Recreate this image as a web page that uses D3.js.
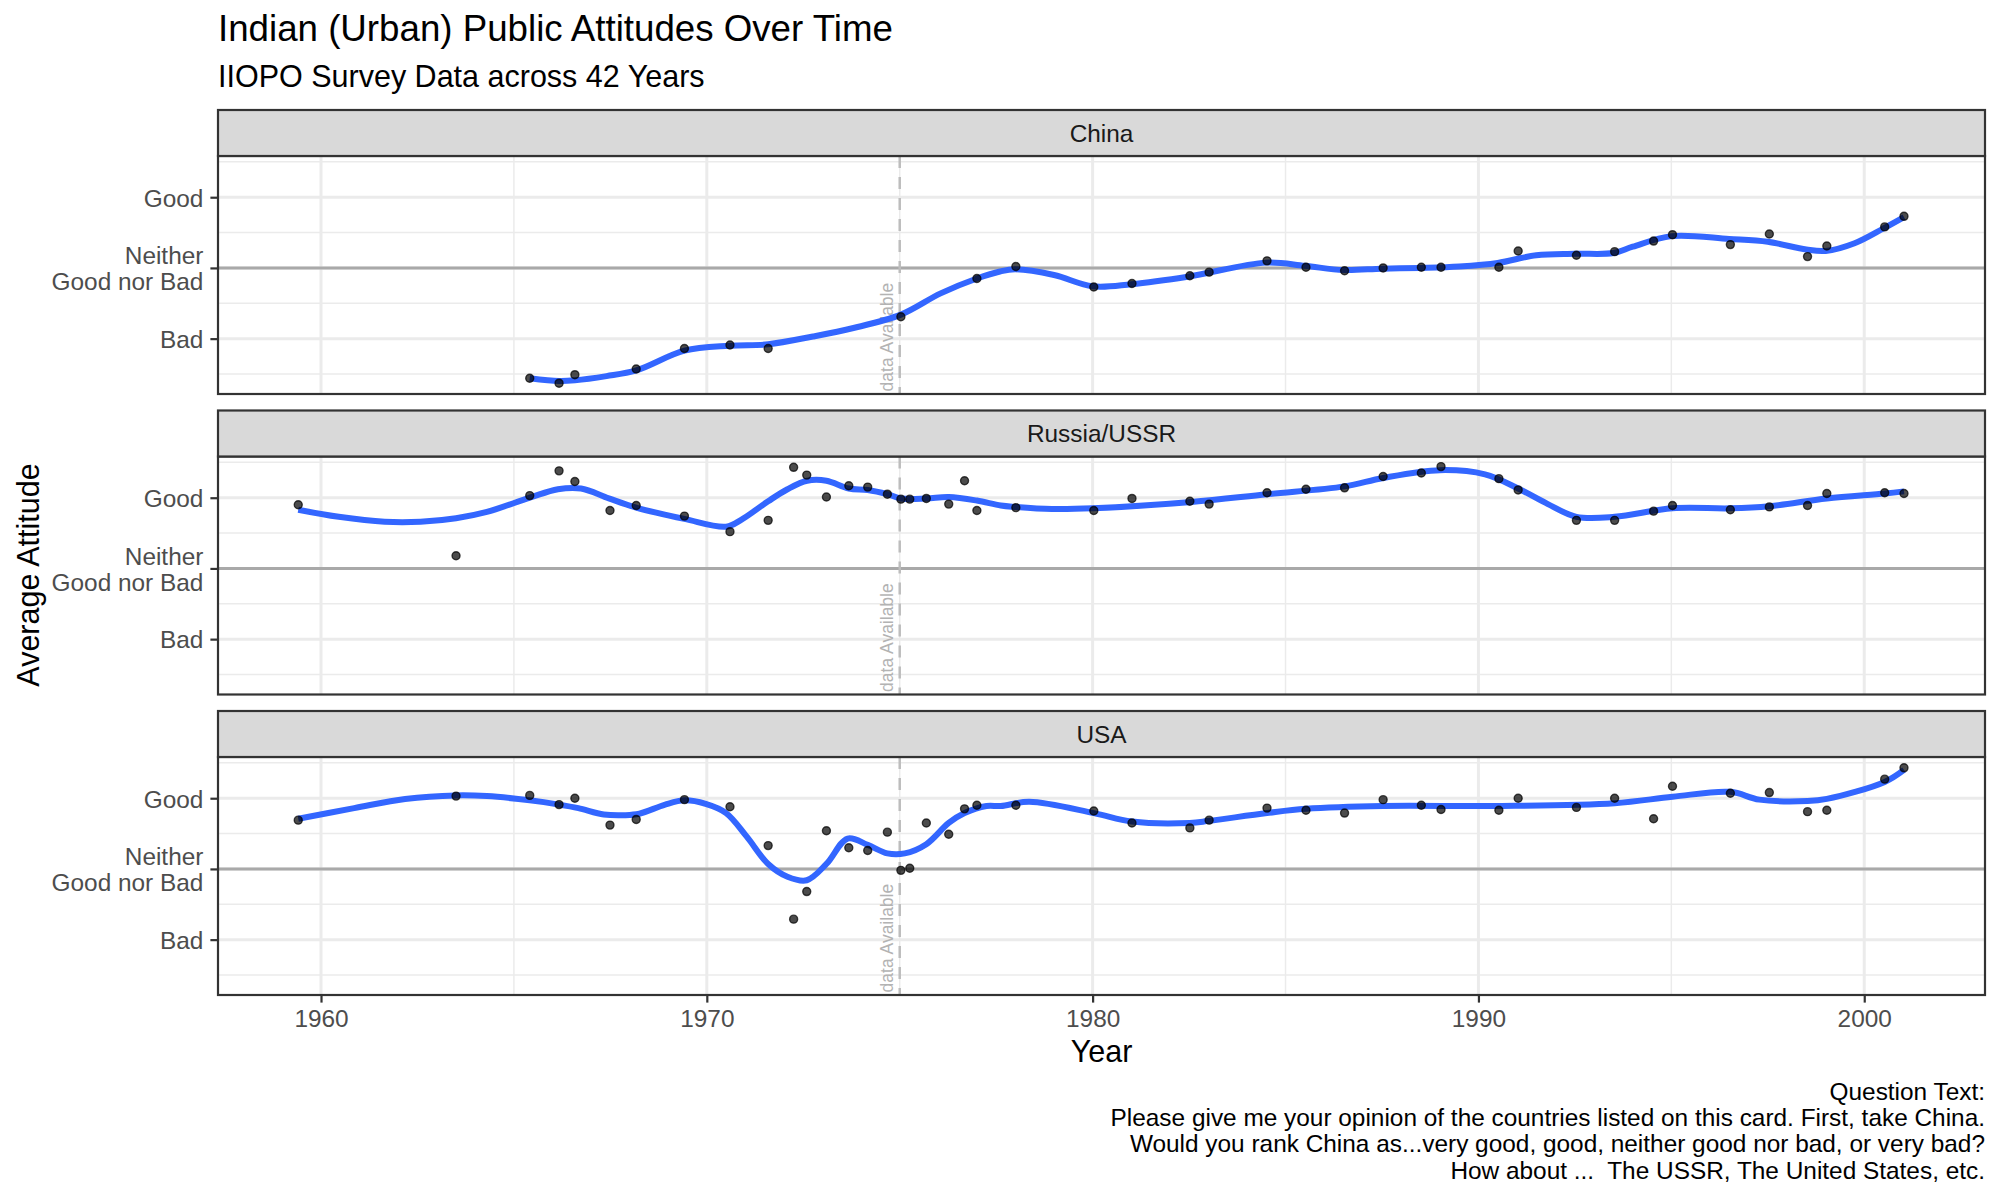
<!DOCTYPE html>
<html><head><meta charset="utf-8">
<script src="https://cdn.jsdelivr.net/npm/d3@7"></script>
<style>
body{margin:0;background:#fff}
svg{display:block}
text{font-family:"Liberation Sans",Arial,Helvetica,sans-serif}
</style>
</head><body>
<svg id="chart" width="2000" height="1200"></svg>
<script>
// ---------------- DATA ----------------
const facetNames = ["China", "Russia/USSR", "USA"];

const chinaYears  = [1965.41,1966.17,1966.58,1968.17,1969.42,1970.6,1971.59,1975.03,1977.0,1978.01,1980.03,1981.02,1982.52,1983.02,1984.52,1985.53,1986.53,1987.53,1988.52,1989.03,1990.53,1991.03,1992.54,1993.53,1994.54,1995.03,1996.53,1997.54,1998.53,1999.03,2000.53,2001.03];
const chinaValues = [-1.56,-1.63,-1.51,-1.43,-1.14,-1.09,-1.14,-0.69,-0.15,0.02,-0.27,-0.22,-0.11,-0.06,0.10,0.01,-0.04,0.0,0.01,0.01,0.01,0.24,0.18,0.23,0.38,0.47,0.33,0.48,0.16,0.31,0.58,0.73];
const chinaSmoothYears  = [1965.41,1966.17,1966.58,1967.4,1968.17,1969.42,1970.6,1971.59,1972.75,1973.8,1975.03,1976.06,1977.0,1977.6,1978.0,1979.0,1980.0,1981.0,1982.5,1984.5,1985.5,1986.5,1987.5,1988.5,1989.5,1990.5,1991.5,1992.5,1993.5,1994.0,1995.0,1996.5,1997.5,1998.5,1999.0,1999.75,2000.5,2001.03];
const chinaSmoothValues = [-1.56,-1.60,-1.59,-1.53,-1.45,-1.17,-1.10,-1.08,-0.97,-0.85,-0.66,-0.36,-0.15,-0.05,-0.02,-0.10,-0.26,-0.23,-0.12,0.075,0.03,-0.03,-0.01,0.0,0.02,0.07,0.18,0.20,0.21,0.30,0.45,0.41,0.37,0.26,0.24,0.35,0.56,0.72];

const russiaYears  = [1959.41,1963.5,1965.41,1966.17,1966.58,1967.49,1968.17,1969.42,1970.6,1971.59,1972.25,1972.59,1973.1,1973.68,1974.17,1974.68,1975.03,1975.26,1975.69,1976.27,1976.68,1977.0,1978.01,1980.03,1981.02,1982.52,1983.02,1984.52,1985.53,1986.53,1987.53,1988.52,1989.03,1990.53,1991.03,1992.54,1993.53,1994.54,1995.03,1996.53,1997.54,1998.53,1999.03,2000.53,2001.03];
const russiaValues = [0.90,0.18,1.03,1.38,1.23,0.82,0.89,0.74,0.52,0.68,1.43,1.32,1.01,1.17,1.15,1.05,0.98,0.98,0.99,0.91,1.24,0.82,0.86,0.82,0.99,0.95,0.91,1.07,1.12,1.14,1.30,1.35,1.44,1.27,1.11,0.68,0.68,0.81,0.89,0.83,0.87,0.89,1.06,1.07,1.06];
const russiaSmoothYears  = [1959.41,1960.46,1961.65,1962.58,1963.5,1964.3,1965.41,1966.14,1966.74,1967.46,1968.17,1969.42,1970.5,1970.9,1971.59,1972.09,1972.6,1973.1,1973.68,1974.17,1974.68,1975.03,1975.69,1976.27,1977.0,1977.62,1978.0,1978.94,1980.0,1982.56,1984.52,1986.53,1987.53,1989.0,1990.17,1991.03,1991.8,1992.54,1993.53,1995.03,1996.53,1997.54,1999.03,2000.53,2001.03];
const russiaSmoothValues = [0.83,0.73,0.66,0.66,0.71,0.80,1.00,1.12,1.13,0.99,0.86,0.70,0.59,0.69,0.95,1.12,1.24,1.24,1.13,1.11,1.05,0.99,0.99,1.01,0.96,0.89,0.87,0.84,0.85,0.94,1.05,1.16,1.28,1.39,1.33,1.13,0.91,0.73,0.73,0.85,0.85,0.88,0.99,1.06,1.09];

const usaYears  = [1959.41,1963.5,1965.41,1966.17,1966.58,1967.49,1968.17,1969.42,1970.6,1971.59,1972.25,1972.59,1973.1,1973.68,1974.17,1974.68,1975.03,1975.26,1975.69,1976.27,1976.68,1977.0,1978.01,1980.03,1981.02,1982.52,1983.02,1984.52,1985.53,1986.53,1987.53,1988.52,1989.03,1990.53,1991.03,1992.54,1993.53,1994.54,1995.03,1996.53,1997.54,1998.53,1999.03,2000.53,2001.03];
const usaValues = [0.69,1.03,1.04,0.91,1.00,0.62,0.70,0.98,0.88,0.33,-0.71,-0.32,0.54,0.30,0.26,0.52,-0.02,0.01,0.65,0.49,0.85,0.90,0.90,0.82,0.65,0.58,0.69,0.86,0.83,0.79,0.98,0.90,0.84,0.83,1.00,0.87,1.00,0.71,1.17,1.07,1.08,0.81,0.83,1.27,1.43];
const usaSmoothYears  = [1959.41,1960.86,1962.18,1963.5,1964.3,1965.41,1966.17,1966.67,1967.33,1967.86,1968.25,1968.92,1969.42,1969.97,1970.5,1971.03,1971.59,1972.09,1972.59,1973.1,1973.65,1974.17,1974.68,1975.13,1975.69,1976.27,1976.68,1977.25,1977.62,1978.36,1980.03,1981.02,1982.52,1983.02,1984.52,1985.53,1987.53,1990.53,1993.53,1995.03,1996.53,1997.28,1998.53,1999.03,2000.53,2001.03];
const usaSmoothValues = [0.71,0.86,0.99,1.04,1.03,0.97,0.91,0.86,0.77,0.76,0.78,0.91,0.97,0.92,0.79,0.46,0.07,-0.11,-0.16,0.07,0.43,0.34,0.22,0.22,0.35,0.65,0.79,0.89,0.89,0.95,0.79,0.67,0.65,0.68,0.79,0.85,0.89,0.89,0.93,1.02,1.09,0.98,0.96,0.99,1.23,1.40];

const yTickValues = [-1, 0, 1];
const yTickLabels = ["Bad", "Neither\nGood nor Bad", "Good"];
const yMinorValues = [-1.5, -0.5, 0.5, 1.5];
const xTickValues = [1960, 1970, 1980, 1990, 2000];
const xMinorValues = [1965, 1975, 1985, 1995];
const markerYear = 1975;
const markerLabel = "No data Available";
const markerLabelValue = -0.21;

const titleText = "Indian (Urban) Public Attitudes Over Time";
const subtitleText = "IIOPO Survey Data across 42 Years";
const xTitle = "Year";
const yTitle = "Average Attitude";
const captionLines = [
  "Question Text:",
  "Please give me your opinion of the countries listed on this card. First, take China.",
  "Would you rank China as...very good, good, neither good nor bad, or very bad?",
  "How about ...  The USSR, The United States, etc."
];

const facetData = [
  {name: facetNames[0], years: chinaYears, values: chinaValues, sYears: chinaSmoothYears, sValues: chinaSmoothValues},
  {name: facetNames[1], years: russiaYears, values: russiaValues, sYears: russiaSmoothYears, sValues: russiaSmoothValues},
  {name: facetNames[2], years: usaYears, values: usaValues, sYears: usaSmoothYears, sValues: usaSmoothValues}
];

// ---------------- LAYOUT ----------------
const plotLeft = 218, plotRight = 1985;
const stripTop0 = 110, stripH = 46, panelH = 238, facetStep = 300.5;
const tickLen = 7.6;
const svg = d3.select("#chart");
svg.append("rect").attr("width", 2000).attr("height", 1200).attr("fill", "#fff");

const x = d3.scaleLinear().domain([1957.33, 2003.13]).range([plotLeft, plotRight]);
const yDomain = [-1.783, 1.583];

// titles
svg.append("text").attr("x", plotLeft).attr("y", 41).attr("font-size", 36.7).attr("fill", "#000").text(titleText);
svg.append("text").attr("x", plotLeft).attr("y", 87).attr("font-size", 30.5).attr("fill", "#000").text(subtitleText);

const defs = svg.append("defs");

facetData.forEach((f, i) => {
  const stripTop = stripTop0 + i * facetStep;
  const top = stripTop + stripH, bottom = top + panelH;
  const y = d3.scaleLinear().domain(yDomain).range([bottom, top]);
  const g = svg.append("g");

  defs.append("clipPath").attr("id", "clip" + i)
    .append("rect").attr("x", plotLeft).attr("y", top).attr("width", plotRight - plotLeft).attr("height", panelH);
  const pg = g.append("g").attr("clip-path", `url(#clip${i})`);

  // minor grid
  pg.selectAll(".ymin").data(yMinorValues).join("line")
    .attr("x1", plotLeft).attr("x2", plotRight).attr("y1", d => y(d)).attr("y2", d => y(d))
    .attr("stroke", "#ebebeb").attr("stroke-width", 1.5);
  pg.selectAll(".xmin").data(xMinorValues).join("line")
    .attr("y1", top).attr("y2", bottom).attr("x1", d => x(d)).attr("x2", d => x(d))
    .attr("stroke", "#ebebeb").attr("stroke-width", 1.5);
  // major grid
  pg.selectAll(".ymaj").data(yTickValues).join("line")
    .attr("x1", plotLeft).attr("x2", plotRight).attr("y1", d => y(d)).attr("y2", d => y(d))
    .attr("stroke", "#ebebeb").attr("stroke-width", 3);
  pg.selectAll(".xmaj").data(xTickValues).join("line")
    .attr("y1", top).attr("y2", bottom).attr("x1", d => x(d)).attr("x2", d => x(d))
    .attr("stroke", "#ebebeb").attr("stroke-width", 3);

  // hline at neither
  pg.append("line").attr("x1", plotLeft).attr("x2", plotRight).attr("y1", y(0)).attr("y2", y(0))
    .attr("stroke", "#a9a9a9").attr("stroke-width", 3);
  // dashed vline
  pg.append("line").attr("x1", x(markerYear)).attr("x2", x(markerYear)).attr("y1", top).attr("y2", bottom)
    .attr("stroke", "#bdbdbd").attr("stroke-width", 2.5).attr("stroke-dasharray", "12,9");
  // label
  pg.append("text")
    .attr("transform", `translate(${x(markerYear) - 6.5},${y(markerLabelValue)}) rotate(-90)`)
    .attr("text-anchor", "end").attr("font-size", 17.5).attr("fill", "#b3b3b3").text(markerLabel);

  // smooth
  const sm = f.sYears.map((yr, k) => [yr, f.sValues[k]]);
  pg.append("path").datum(sm)
    .attr("d", d3.line().x(d => x(d[0])).y(d => y(d[1])).curve(d3.curveCatmullRom.alpha(0.5)))
    .attr("fill", "none").attr("stroke", "#3366FF").attr("stroke-width", 6)
    .attr("stroke-linejoin", "round").attr("stroke-linecap", "butt");

  // points
  const pts = f.years.map((yr, k) => [yr, f.values[k]]);
  pg.selectAll(".pt").data(pts).join("circle")
    .attr("cx", d => x(d[0])).attr("cy", d => y(d[1])).attr("r", 4)
    .attr("fill", "#000").attr("fill-opacity", 0.7)
    .attr("stroke", "#000").attr("stroke-opacity", 0.7).attr("stroke-width", 1.4);

  // panel border
  g.append("rect").attr("x", plotLeft).attr("y", top).attr("width", plotRight - plotLeft).attr("height", panelH)
    .attr("fill", "none").attr("stroke", "#333333").attr("stroke-width", 2.2);

  // strip
  g.append("rect").attr("x", plotLeft).attr("y", stripTop).attr("width", plotRight - plotLeft).attr("height", stripH)
    .attr("fill", "#d9d9d9").attr("stroke", "#333333").attr("stroke-width", 2.2);
  g.append("text").attr("x", (plotLeft + plotRight) / 2).attr("y", stripTop + stripH / 2 + 8.7)
    .attr("text-anchor", "middle").attr("font-size", 24.4).attr("fill", "#1a1a1a").text(f.name);

  // y axis
  const yAxis = d3.axisLeft(y).tickValues(yTickValues).tickSize(tickLen).tickPadding(7)
    .tickFormat(d => yTickLabels[yTickValues.indexOf(d)]);
  const ya = g.append("g").attr("transform", `translate(${plotLeft},0)`).call(yAxis);
  ya.select(".domain").remove();
  ya.selectAll(".tick line").attr("stroke", "#333333").attr("stroke-width", 2.2);
  ya.selectAll(".tick text").attr("font-size", 24.4).attr("fill", "#4d4d4d")
    .attr("font-family", "'Liberation Sans',Arial,Helvetica,sans-serif")
    .each(function(d) {
      const lines = yTickLabels[yTickValues.indexOf(d)].split("\n");
      const t = d3.select(this);
      const xPos = t.attr("x");
      t.text(null).attr("dy", null);
      lines.forEach((ln, k) => {
        t.append("tspan").attr("x", xPos)
          .attr("dy", k === 0 ? (0.36 - (lines.length - 1) * 0.54) + "em" : "1.08em")
          .text(ln);
      });
    });

  if (i === facetData.length - 1) {
    const xAxis = d3.axisBottom(x).tickValues(xTickValues).tickSize(tickLen).tickPadding(6.8).tickFormat(d3.format("d"));
    const xa = g.append("g").attr("transform", `translate(0,${bottom})`).call(xAxis);
    xa.select(".domain").remove();
    xa.selectAll(".tick line").attr("stroke", "#333333").attr("stroke-width", 2.2);
    xa.selectAll(".tick text").attr("font-size", 24.4).attr("fill", "#4d4d4d")
      .attr("font-family", "'Liberation Sans',Arial,Helvetica,sans-serif");
  }
});

// axis titles
svg.append("text").attr("x", (plotLeft + plotRight) / 2).attr("y", 1062).attr("text-anchor", "middle")
  .attr("font-size", 30.5).attr("fill", "#000").text(xTitle);
svg.append("text").attr("transform", "translate(39,575) rotate(-90)").attr("text-anchor", "middle")
  .attr("font-size", 30.5).attr("fill", "#000").text(yTitle);

// caption
svg.append("g").selectAll("text").data(captionLines).join("text")
  .attr("x", plotRight).attr("y", (d, k) => 1100 + k * 26.2).attr("text-anchor", "end")
  .style("white-space", "pre")
  .attr("font-size", 24.4).attr("fill", "#000").text(d => d);
</script>
</body></html>
